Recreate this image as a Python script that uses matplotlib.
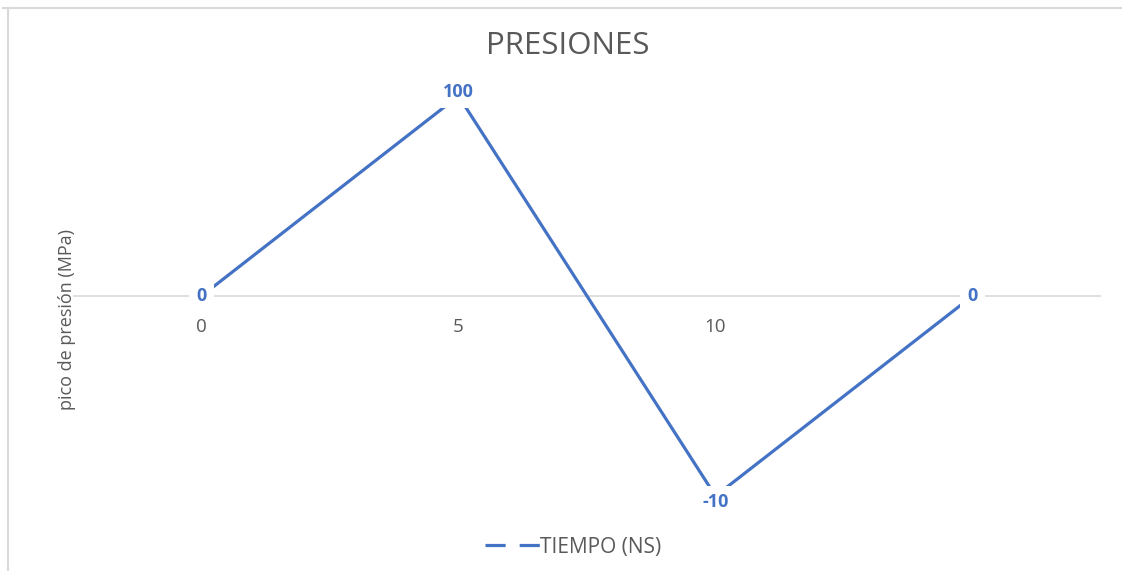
import matplotlib
matplotlib.use('Agg')
import matplotlib.pyplot as plt
from matplotlib.lines import Line2D

# data
categories = ['0', '5', '10', '']
pressure = [0, 100, -100, 0]
point_labels = ['0', '100', '-10', '0']
label_nudge = [0, 4, -6, 0]   # px, data labels sit a bit off the point
series_name = 'TIEMPO (NS)'

blue = '#4472C4'
gray_text = '#595959'
plt.rcParams['font.family'] = ['Open Sans', 'DejaVu Sans']

W, H = 1122, 571
fig = plt.figure(figsize=(W / 100, H / 100), dpi=100)
# plot area in pixels: x 73..1101, y 76..516
ax = fig.add_axes([73 / W, 1 - 516 / H, (1101 - 73) / W, (516 - 76) / H])

x = list(range(len(categories)))
ax.axhline(0, color='#D9D9D9', lw=1.2, zorder=1)
ax.plot(x, pressure, color=blue, lw=2.3, solid_capstyle='round', zorder=2)

for x0, y0, txt, dy in zip(x, pressure, point_labels, label_nudge):
    ax.annotate(txt, (x0, y0), xytext=(0, dy * 0.72), textcoords='offset points',
                ha='center', va='center', color=blue,
                fontsize=13, fontweight='bold', zorder=3,
                bbox=dict(boxstyle='square,pad=0.4', fc='white', ec='none'))

ax.set_xlim(-0.5, len(categories) - 0.5)
ax.set_ylim(-110, 110)
ax.set_xticks(x, categories)
ax.tick_params(axis='x', length=0, pad=16, labelsize=13.5, labelcolor=gray_text)
ax.spines['bottom'].set_position(('data', 0))
for s in ax.spines.values():
    s.set_visible(False)
ax.set_yticks([])
ax.patch.set_alpha(0)

fig.text(568 / W, 1 - 46 / H, 'PRESIONES', ha='center', va='center',
         fontsize=22.5, color=gray_text)
fig.text(67 / W, 1 - 320 / H, 'pico de presión (MPa)', ha='center',
         va='center', rotation=90, fontsize=13, color=gray_text)

handle = Line2D([], [], color=blue, lw=2.3, dashes=(6.3, 4.4))
fig.legend([handle], [series_name], loc='center', frameon=False,
           bbox_to_anchor=(573 / W, 1 - 547 / H), fontsize=15,
           handlelength=2.64, handletextpad=0.0, labelcolor=gray_text)

# chart border (top and left edges only visible)
fig.add_artist(Line2D([3 / W, 1], [1 - 8 / H, 1 - 8 / H], color='#D9D9D9', lw=1.5))
fig.add_artist(Line2D([8 / W, 8 / W], [0, 1 - 8 / H], color='#D9D9D9', lw=1.5))

fig.savefig('out.png', dpi=100)
